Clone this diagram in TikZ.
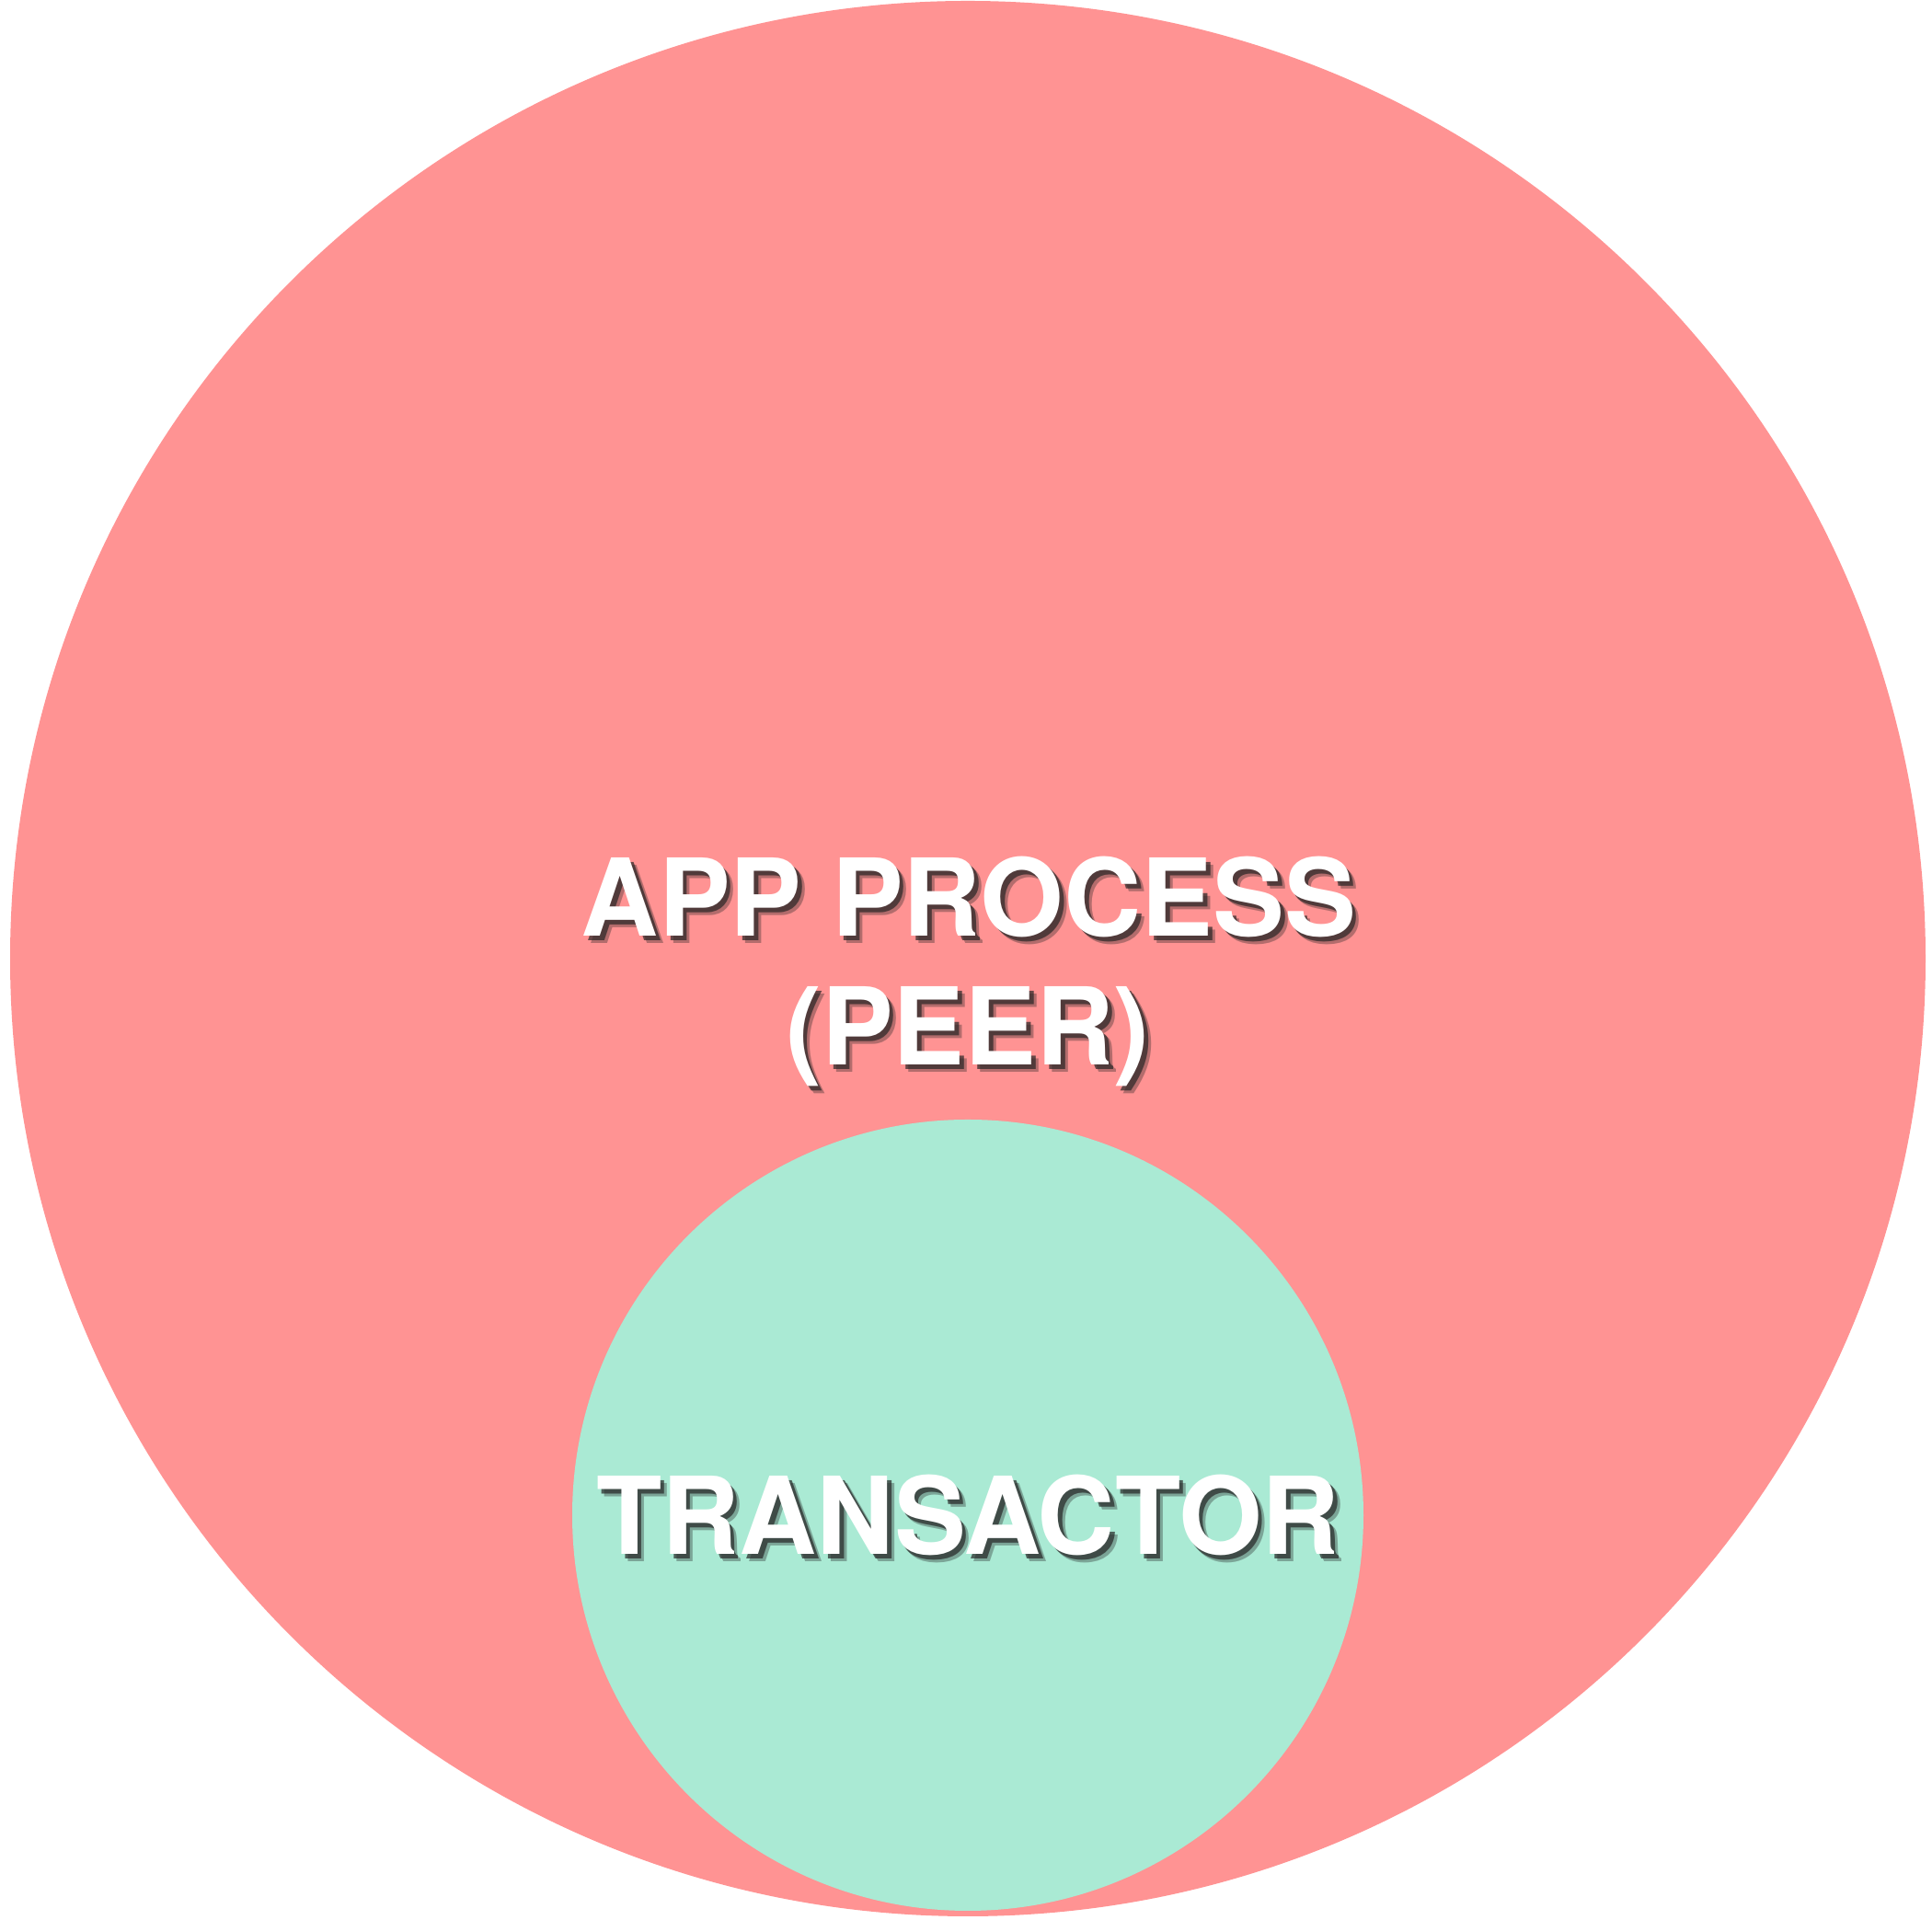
\documentclass[tikz,border=0pt]{standalone}
\usepackage{fontspec}
\setmainfont{TeX Gyre Heros}
\usetikzlibrary{positioning}

\definecolor{peerpink}{HTML}{FF9393}
\definecolor{txgreen}{HTML}{AAEAD4}

% white caption with a soft drop shadow
\newcommand{\shadowlabel}[3]{%
  \node[caption, text=black!85, opacity=0.35, xshift=0.75mm, yshift=-0.75mm] at (#2) {#3};
  \node[caption, text=black!85, opacity=0.7, xshift=0.45mm, yshift=-0.45mm] at (#2) {#3};
  \node[caption] (#1) at (#2) {#3};}

\begin{document}
\begin{tikzpicture}
[caption/.style = {anchor=base, inner sep=0pt, text=white,
   font=\fontsize{33.2pt}{40pt}\selectfont\bfseries},
 bubble/.style = {circle, inner sep=0pt, draw=none}]
\useasboundingbox (0,0) rectangle (21,20.87);

% outer process
\node[bubble, fill=peerpink, minimum size=20.82cm] (peer) at (10.52,10.45) {};
% inner transactor
\node[bubble, fill=txgreen, minimum size=8.6cm] (transactor) at (10.52,4.40) {};

\coordinate (apppos) at (10.53,10.69);
\coordinate (peerpos) at (10.52,9.29);
\coordinate (txpos) at (10.52,3.97);

\shadowlabel{applabel}{apppos}{APP PROCESS}
\shadowlabel{peerlabel}{peerpos}{(PEER)}
\shadowlabel{txlabel}{txpos}{TRANSACTOR}

\end{tikzpicture}
\end{document}
